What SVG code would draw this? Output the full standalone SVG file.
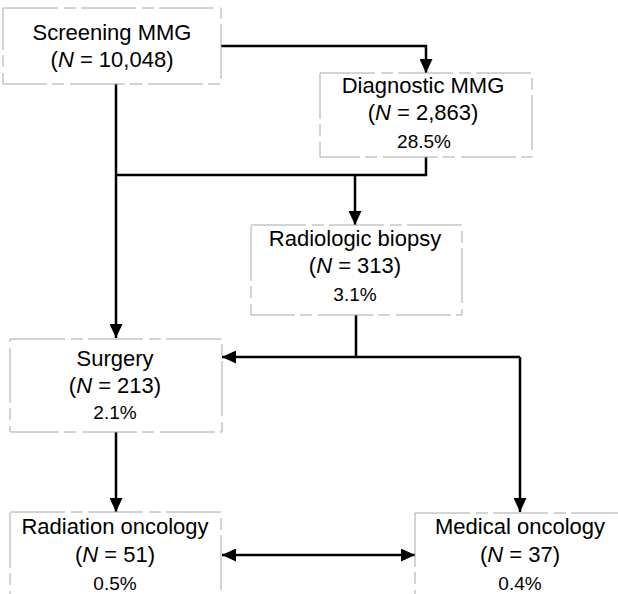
<svg xmlns="http://www.w3.org/2000/svg" width="618" height="594" viewBox="0 0 618 594">
<defs>
<marker id="ah" markerUnits="userSpaceOnUse" markerWidth="15" markerHeight="13" refX="14" refY="6.5" orient="auto-start-reverse"><path d="M0,0 L14,6.5 L0,13 z" fill="#000"/></marker>
<style>
.box{fill:none;stroke:#a8a8a8;stroke-width:1;stroke-dasharray:55 6 12 5}
.lbl{font-family:"Liberation Sans",Arial,sans-serif;font-size:22px;fill:#000;text-anchor:middle}
.pct{font-family:"Liberation Sans",Arial,sans-serif;font-size:19px;fill:#000;text-anchor:middle}
.con{fill:none;stroke:#000;stroke-width:2.5}
</style>
</defs>
<rect width="618" height="594" fill="#fff"/>
<g id="connectors">
<path class="con" d="M221,46 H426 V73" marker-end="url(#ah)"/>
<path class="con" d="M116,84 V338" marker-end="url(#ah)"/>
<path class="con" d="M426,157 V175 H116"/>
<path class="con" d="M355,175 V225" marker-end="url(#ah)"/>
<path class="con" d="M356,315 V357"/>
<path class="con" d="M520,357 H222" marker-end="url(#ah)"/>
<path class="con" d="M520,357 V512" marker-end="url(#ah)"/>
<path class="con" d="M116,432 V512" marker-end="url(#ah)"/>
<path class="con" d="M222,555 H415" marker-start="url(#ah)" marker-end="url(#ah)"/>
</g>
<g id="screening">
<rect class="box" x="3" y="8" width="218" height="76"/>
<text class="lbl" x="112" y="40">Screening MMG</text>
<text class="lbl" x="112" y="67">(<tspan font-style="italic">N</tspan> = 10,048)</text>
</g>
<g id="diagnostic">
<rect class="box" x="320" y="73" width="212" height="84"/>
<text class="lbl" x="423" y="93">Diagnostic MMG</text>
<text class="lbl" x="423" y="120">(<tspan font-style="italic">N</tspan> = 2,863)</text>
<text class="pct" x="424" y="148">28.5%</text>
</g>
<g id="biopsy">
<rect class="box" x="251" y="225" width="211" height="90"/>
<text class="lbl" x="355" y="246">Radiologic biopsy</text>
<text class="lbl" x="355" y="273">(<tspan font-style="italic">N</tspan> = 313)</text>
<text class="pct" x="355" y="301">3.1%</text>
</g>
<g id="surgery">
<rect class="box" x="10" y="339" width="212" height="93"/>
<text class="lbl" x="115" y="366">Surgery</text>
<text class="lbl" x="115" y="393">(<tspan font-style="italic">N</tspan> = 213)</text>
<text class="pct" x="115" y="419">2.1%</text>
</g>
<g id="radiation">
<rect class="box" x="10" y="512" width="211" height="90"/>
<text class="lbl" x="115" y="534">Radiation oncology</text>
<text class="lbl" x="115" y="562">(<tspan font-style="italic">N</tspan> = 51)</text>
<text class="pct" x="115" y="590">0.5%</text>
</g>
<g id="medical">
<rect class="box" x="415" y="513" width="210" height="90"/>
<text class="lbl" x="520" y="534">Medical oncology</text>
<text class="lbl" x="520" y="562">(<tspan font-style="italic">N</tspan> = 37)</text>
<text class="pct" x="520" y="590">0.4%</text>
</g>
</svg>
